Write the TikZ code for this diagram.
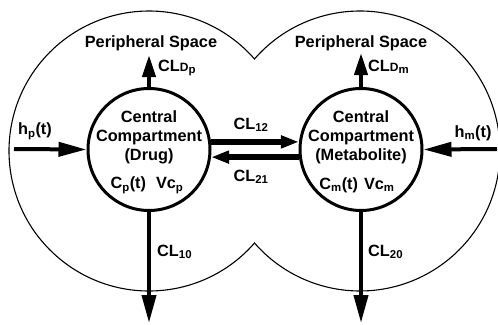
\documentclass[tikz,border=0pt]{standalone}
\usepackage{fontspec}
\setmainfont{Liberation Sans}
\usetikzlibrary{arrows.meta}
\begin{document}
\begin{tikzpicture}[x=1pt,y=-1pt,
  lbl/.style={font=\fontsize{16.3}{19}\selectfont\bfseries, inner sep=0pt},
  comp/.style={circle, draw, line width=3pt, minimum size=122pt, inner sep=0pt},
  bigarrow/.style={line width=4pt, -{Triangle[length=28pt,width=14pt]}},
  toparrow/.style={line width=4pt, -{Triangle[length=22pt,width=13pt]}},
  midarrow/.style={line width=6pt, -{Triangle[length=18pt,width=12pt]}},
  outline/.style={line width=1.1pt}]
\useasboundingbox (0,0) rectangle (498,324);
% outer boundary (union of two circles)
\draw[outline] ([shift={(41.1:140)}]149,151) arc[start angle=41.1, end angle=318.9, radius=140]
  arc[start angle=221.1, end angle=498.9, radius=140] -- cycle;
% compartments
\node[comp] (L) at (149,149.5) {};
\node[comp] (R) at (361,149.5) {};
% free ends
\coordinate (dpTip) at (149,55);
\coordinate (dmTip) at (361,53);
\coordinate (c10Tip) at (149,323);
\coordinate (c20Tip) at (361,323);
\coordinate (hpS) at (14,149);
\coordinate (hmS) at (497,149);
% arrows
\draw[toparrow] (L.north) -- (dpTip);
\draw[toparrow] (R.north) -- (dmTip);
\draw[bigarrow] (L.south) -- (c10Tip);
\draw[bigarrow] (R.south) -- (c20Tip);
\draw[bigarrow] (hpS) -- (L.west);
\draw[bigarrow] (hmS) -- (R.east);
\draw[midarrow] (L.7) -- (R.173);
\draw[midarrow] (R.187) -- (L.-7);
% labels
\node[lbl] (ps1) at (151,43) {Peripheral Space};
\node[lbl] (ps2) at (361,43) {Peripheral Space};
\node[lbl, anchor=west] (cldp) at (158,68) {CL{\fontsize{12}{14}\selectfont D}\textsubscript{p}};
\node[lbl, anchor=west] (cldm) at (368,67) {CL{\fontsize{12}{14}\selectfont D}\textsubscript{m}};
\node[lbl, align=center] (t1) at (149,137) {Central\\Compartment\\(Drug)};
\node[lbl, align=center] (t2) at (361,137) {Central\\Compartment\\(Metabolite)};
\node[lbl] (cp) at (147,185) {C\textsubscript{p}(t)\hspace{10pt}Vc\textsubscript{p}};
\node[lbl] (cm) at (357,185) {C\textsubscript{m}(t)\hspace{6pt}Vc\textsubscript{m}};
\node[lbl] (c12) at (251,125) {CL\textsubscript{12}};
\node[lbl] (c21) at (251,177) {CL\textsubscript{21}};
\node[lbl, anchor=west] (c10) at (157,252) {CL\textsubscript{10}};
\node[lbl, anchor=west] (c20) at (368,252) {CL\textsubscript{20}};
\node[lbl] (hp) at (35,131) {h\textsubscript{p}(t)};
\node[lbl] (hm) at (473,133) {h\textsubscript{m}(t)};
\end{tikzpicture}
\end{document}
